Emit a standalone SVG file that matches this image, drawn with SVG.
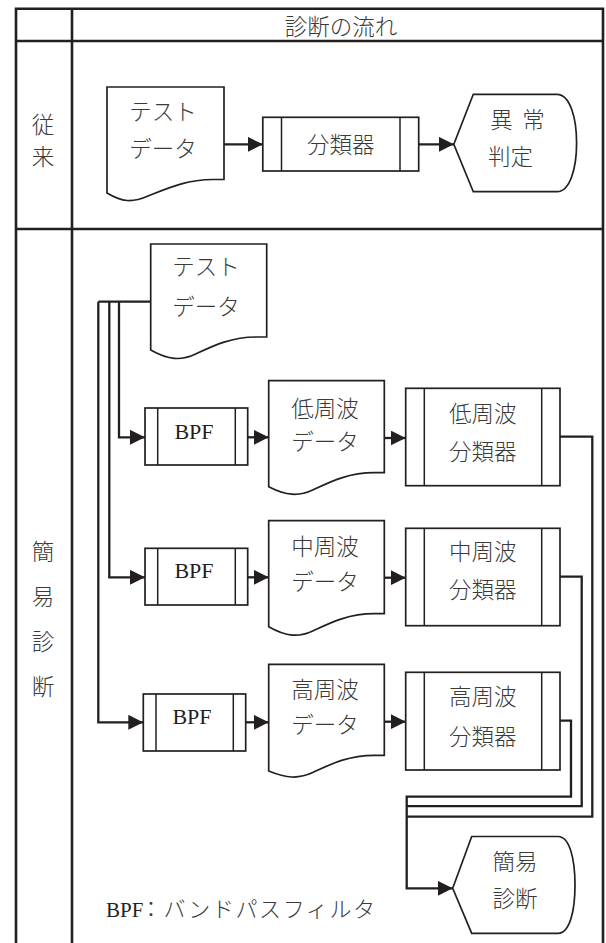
<svg xmlns="http://www.w3.org/2000/svg" width="606" height="943" viewBox="0 0 606 943">
<defs>
<style>
.frame{fill:none;stroke:#231f20;stroke-width:2.6}
.shape{fill:#fff;stroke:#231f20;stroke-width:1.7}
.inner{fill:none;stroke:#231f20;stroke-width:1.5}
.conn{fill:none;stroke:#231f20;stroke-width:2.3}
.arr{marker-end:url(#ah)}
.jp{font-family:"Noto Sans CJK JP","Noto Sans CJK SC",sans-serif;font-size:22.5px;font-weight:300;fill:#3a3a3a;text-anchor:middle;dominant-baseline:central}
.lat{font-family:"Liberation Serif",serif;font-size:22px;fill:#231f20;text-anchor:middle}
</style>
<marker id="ah" markerUnits="userSpaceOnUse" markerWidth="15" markerHeight="15" refX="15" refY="7.5" orient="auto">
<path d="M0,0 L15,7.5 L0,15 Z" fill="#231f20"/>
</marker>
</defs>
<rect width="606" height="943" fill="#fff"/>

<g id="table">
<path class="frame" d="M16,943 V8.7 H603 V943 M72,8.7 V943 M16,41 H603 M16,229 H603"/>
<text class="jp" x="341" y="25">診断の流れ</text>
<text class="jp" x="43" y="123">従</text>
<text class="jp" x="43" y="155">来</text>
<text class="jp" x="43" y="550">簡</text>
<text class="jp" x="43" y="595">易</text>
<text class="jp" x="43" y="640">診</text>
<text class="jp" x="43" y="685">断</text>
</g>

<g id="connectors">
<path class="conn arr" d="M224,144.3 H262.8"/>
<path class="conn arr" d="M418.7,144.3 H453.8"/>
<path class="conn" d="M150.7,301.7 H98.3"/>
<path class="conn arr" d="M119,301.7 V437.3 H145"/>
<path class="conn arr" d="M109.3,301.7 V577.3 H145"/>
<path class="conn arr" d="M98.3,301.7 V722.3 H143.3"/>
<path class="conn arr" d="M247.7,437.3 H268.7"/>
<path class="conn arr" d="M247.7,577.3 H268.7"/>
<path class="conn arr" d="M245.7,722.3 H268.7"/>
<path class="conn arr" d="M384.3,438 H405.7"/>
<path class="conn arr" d="M384.3,577.7 H405.7"/>
<path class="conn arr" d="M384.3,721.7 H405.7"/>
<path class="conn" d="M560,436.7 H592.3 V816.7 H406.7"/>
<path class="conn" d="M560,576.7 H581.7 V806.2 H406.7"/>
<path class="conn arr" d="M560,720.7 H571 V796.7 H406.7 V888.3 H452.7"/>
</g>

<g id="conv-testdata">
<path class="shape" d="M107,87 H224 V179.5 H213 C187,179.5 168,188 148,196 C132,203 122,202 107,193 Z"/>
<text class="jp" x="163" y="110">テスト</text>
<text class="jp" x="163" y="147">データ</text>
</g>

<g id="conv-classifier">
<rect class="shape" x="262.8" y="117.3" width="155.9" height="53.7"/>
<path class="inner" d="M281.5,117.3 V171 M400,117.3 V171"/>
<text class="jp" x="340.7" y="143">分類器</text>
</g>

<g id="conv-judge">
<path class="shape" d="M453.8,144.3 L473.3,94.3 H557 C570,94.3 576.6,118 576.6,143 C576.6,168 570,191.7 557,191.7 H473.3 Z"/>
<text class="jp" x="501.5" y="118.3">異</text>
<text class="jp" x="533.5" y="118.3">常</text>
<text class="jp" x="510.5" y="155">判定</text>
</g>

<g id="testdata">
<path class="shape" d="M150.7,244 H266.7 V337 H256.7 C230.7,337 212.7,346 195.7,354 C180.7,361 168.7,360 150.7,350 Z"/>
<text class="jp" x="206" y="265">テスト</text>
<text class="jp" x="206" y="305">データ</text>
</g>

<g id="bpf-low">
<rect class="shape" x="145" y="408" width="102.7" height="57"/>
<path class="inner" d="M157.7,408 V465 M235.3,408 V465"/>
<text class="lat" x="194" y="439">BPF</text>
</g>
<g id="bpf-mid">
<rect class="shape" x="145" y="548.3" width="102.7" height="56.7"/>
<path class="inner" d="M157.7,548.3 V605 M235.3,548.3 V605"/>
<text class="lat" x="194" y="578">BPF</text>
</g>
<g id="bpf-high">
<rect class="shape" x="143.3" y="694" width="102.4" height="57"/>
<path class="inner" d="M156,694 V751 M233.3,694 V751"/>
<text class="lat" x="192" y="724">BPF</text>
</g>

<g id="data-low">
<path class="shape" d="M268.7,380.7 H384.3 V472.7 H374.3 C348.3,472.7 330.3,481.7 313.3,489.7 C298.3,496.7 286.3,495.7 268.7,486.7 Z"/>
<text class="jp" x="325" y="407">低周波</text>
<text class="jp" x="325" y="440">データ</text>
</g>
<g id="data-mid">
<path class="shape" d="M268.7,520.7 H384.3 V613.7 H374.3 C348.3,613.7 330.3,622.7 313.3,630.7 C298.3,637.7 286.3,636.7 268.7,626.7 Z"/>
<text class="jp" x="325" y="545">中周波</text>
<text class="jp" x="325" y="580">データ</text>
</g>
<g id="data-high">
<path class="shape" d="M268.7,664.3 H384.3 V755.3 H374.3 C348.3,755.3 330.3,764.3 313.3,772.3 C298.3,779.3 286.3,778.3 268.7,771 Z"/>
<text class="jp" x="325" y="688">高周波</text>
<text class="jp" x="325" y="723">データ</text>
</g>

<g id="cls-low">
<rect class="shape" x="405.7" y="388.3" width="154.3" height="97.4"/>
<path class="inner" d="M424.3,388.3 V485.7 M541.7,388.3 V485.7"/>
<text class="jp" x="482.8" y="411.7">低周波</text>
<text class="jp" x="482.8" y="450">分類器</text>
</g>
<g id="cls-mid">
<rect class="shape" x="405.7" y="528.3" width="154.3" height="97.4"/>
<path class="inner" d="M424.3,528.3 V625.7 M541.7,528.3 V625.7"/>
<text class="jp" x="482.8" y="550">中周波</text>
<text class="jp" x="482.8" y="588">分類器</text>
</g>
<g id="cls-high">
<rect class="shape" x="405.7" y="672.3" width="154.3" height="97.7"/>
<path class="inner" d="M424.3,672.3 V770 M541.7,672.3 V770"/>
<text class="jp" x="482.8" y="695">高周波</text>
<text class="jp" x="482.8" y="735">分類器</text>
</g>

<g id="simple-diag">
<path class="shape" d="M452.7,888.3 L471.7,836.5 H558 C570,836.5 575,860 575,885 C575,910 570,933.3 558,933.3 H471.7 Z"/>
<text class="jp" x="515" y="860">簡易</text>
<text class="jp" x="515" y="897">診断</text>
</g>

<g id="legend">
<text x="106" y="917" style="font-family:'Liberation Serif',serif;font-size:21px;fill:#231f20">BPF<tspan style="font-family:'Noto Sans CJK JP',sans-serif;font-weight:300;font-size:22px;fill:#3a3a3a" x="140" textLength="235" lengthAdjust="spacing">：バンドパスフィルタ</tspan></text>
</g>
</svg>
